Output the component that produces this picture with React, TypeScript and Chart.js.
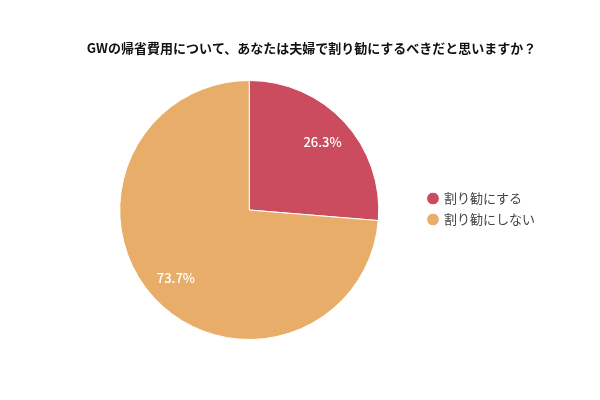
import React, { useEffect, useRef } from "react";
import { Chart, registerables } from "chart.js";

Chart.register(...registerables);

const titleText = "GWの帰省費用について、あなたは夫婦で割り勧にするべきだと思いますか？";
const categories = ["割り勧にする", "割り勧にしない"];
const values = [26.3, 73.7];
const colors = ["#CB4C5E", "#E8AD68"];

const FONT = "'Noto Sans CJK JP', 'Noto Sans', sans-serif";

const labelPlugin = {
  id: "sliceLabels",
  afterDatasetsDraw(chart: any) {
    const ctx = chart.ctx;
    const meta = chart.getDatasetMeta(0);
    ctx.save();
    ctx.fillStyle = "#ffffff";
    ctx.font = `500 13px ${FONT}`;
    ctx.textAlign = "center";
    ctx.textBaseline = "middle";
    meta.data.forEach((arc: any, i: number) => {
      const { x, y, startAngle, endAngle, outerRadius } = arc.getProps(
        ["x", "y", "startAngle", "endAngle", "outerRadius"],
        true
      );
      const mid = (startAngle + endAngle) / 2;
      const r = outerRadius * 0.77;
      ctx.fillText(values[i].toFixed(1) + "%", x + Math.cos(mid) * r, y + Math.sin(mid) * r);
    });
    ctx.restore();
  },
};

export default function App() {
  const ref = useRef<HTMLCanvasElement | null>(null);
  useEffect(() => {
    document.body.style.margin = "0";
    const chart = new Chart(ref.current!, {
      type: "pie",
      data: {
        labels: categories,
        datasets: [
          {
            data: values,
            backgroundColor: colors,
            borderColor: "#ffffff",
            borderWidth: 1,
          },
        ],
      },
      options: {
        animation: false,
        responsive: false,
        layout: { padding: { top: 40, bottom: 60, left: 78, right: 55 } },
        plugins: {
          title: {
            display: true,
            text: titleText,
            color: "#111111",
            font: { family: FONT, size: 13, weight: "bold" },
            padding: { top: 0, bottom: 24.4 },
          },
          legend: {
            position: "right",
            title: {
              display: true,
              text: "",
              font: { size: 10 },
              padding: { top: 13, bottom: 13 },
            },
            labels: {
              usePointStyle: true,
              pointStyle: "circle",
              boxWidth: 9,
              boxHeight: 9,
              padding: 8,
              color: "#444444",
              font: { family: FONT, size: 13 },
            },
          },
          tooltip: { enabled: false },
        },
      },
      plugins: [labelPlugin],
    });
    return () => chart.destroy();
  }, []);
  return (
    <div style={{ position: "absolute", left: 0, top: 0, width: 600, height: 400 }}>
      <canvas ref={ref} width={600} height={400} />
    </div>
  );
}
